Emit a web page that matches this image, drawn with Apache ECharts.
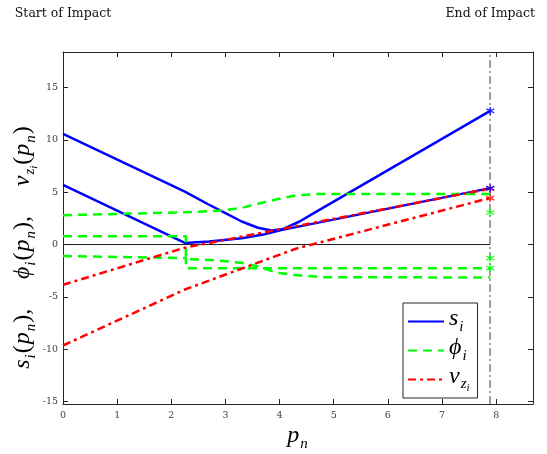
<!DOCTYPE html>
<html>
<head>
<meta charset="utf-8">
<script src="https://cdn.jsdelivr.net/npm/echarts@6/dist/echarts.min.js"></script>
<style>
html, body { margin: 0; padding: 0; background: #fff; }
#chart { width: 547px; height: 454px; }
</style>
</head>
<body>
<div id="chart"></div>
<script>
// Impact parameter at the end of the impact
const pEnd = 7.89;
const xRange = [0, 8.68];
const yRange = [-15.24, 18.4];
const xTicks = [0, 1, 2, 3, 4, 5, 6, 7, 8];
const yTicks = [-15, -10, -5, 0, 5, 10, 15];

// Slip speeds s_i(p_n)
const s1P = [0, 2.25, 2.68, 3.0, 3.3, 3.6, 3.85, 4.05, 4.37, 4.6, 7.89];
const s1V = [10.57, 5.06, 3.85, 3.0, 2.2, 1.6, 1.35, 1.45, 2.2, 2.9, 12.77];
const s2P = [0, 2.25, 2.7, 3.3, 3.7, 4.05, 7.89];
const s2V = [5.7, 0.15, 0.28, 0.6, 0.95, 1.4, 5.39];

// Slip directions phi_i(p_n)
const phi1P = [0, 2.25, 2.95, 3.3, 3.6, 3.97, 4.3, 4.7, 7.89];
const phi1V = [2.8, 3.08, 3.25, 3.5, 3.9, 4.35, 4.7, 4.82, 4.82];
const phi2P = [0, 2.27, 2.27, 2.5, 2.9, 3.3, 3.6, 3.95, 4.37, 4.8, 7.89];
const phi2V = [0.8, 0.8, -1.4, -1.42, -1.55, -1.75, -2.1, -2.7, -2.95, -3.12, -3.15];
const phi3P = [0, 2.27, 2.27, 7.89];
const phi3V = [-1.1, -1.3, -2.26, -2.26];

// Normal contact velocities v_zi(p_n)
const v1P = [0, 2.25, 7.89];
const v1V = [-3.85, -0.3, 5.35];
const v2P = [0, 2.25, 4.3, 7.89];
const v2V = [-9.65, -4.3, -0.4, 4.45];

// Values reached at the end of the impact
const sEnd = [12.77, 5.39];
const phiEnd = [3.06, -1.3, -2.25];
const vEnd = [5.35, 4.43];

const BLUE = '#0000ff', GREEN = '#00ff00', RED = '#ff0000';
const AXIS = '#262626';
const MATH = 'Liberation Serif';
const TEXT = 'DejaVu Serif';

const zip = (xs, ys) => xs.map((x, i) => [x, ys[i]]);

const asterisk = 'path://M5,0L5,10M0.67,2.5L9.33,7.5M0.67,7.5L9.33,2.5';

function curve(name, xs, ys, color, type, width) {
  return {
    name: name, type: 'line', data: zip(xs, ys),
    symbol: 'none', showSymbol: false, smooth: false, animation: false,
    lineStyle: { color: color, width: width, type: type },
    itemStyle: { color: color },
    emphasis: { disabled: true }
  };
}

function endMarks(name, vals, color) {
  return {
    name: name, type: 'scatter', animation: false,
    data: vals.map(v => [pEnd, v]),
    symbol: asterisk, symbolSize: 8,
    itemStyle: { color: 'rgba(0,0,0,0)', borderColor: color, borderWidth: 1.3 },
    emphasis: { disabled: true }, z: 5
  };
}

// Rich-text styles for math labels (italic letters with subscripts)
function mathRich(size) {
  return {
    m: { fontFamily: MATH, fontStyle: 'italic', fontSize: size, color: '#000', verticalAlign: 'bottom', padding: [0, 1, Math.round(size * 0.22), 0] },
    r: { fontFamily: MATH, fontSize: size, color: '#000', verticalAlign: 'bottom', padding: [0, 1, Math.round(size * 0.22), 0] },
    a: { fontFamily: MATH, fontStyle: 'italic', fontSize: Math.round(size * 0.62), color: '#000', verticalAlign: 'bottom', padding: [0, 1, Math.round(size * 0.05), 0] },
    b: { fontFamily: MATH, fontStyle: 'italic', fontSize: Math.round(size * 0.62), color: '#000', verticalAlign: 'bottom', padding: [0, 0, Math.round(size * 0.1), 0] },
    c: { fontFamily: MATH, fontStyle: 'italic', fontSize: Math.round(size * 0.45), color: '#000', verticalAlign: 'bottom', padding: [0, 1, 0, 0] }
  };
}

const legendText = {
  s: '{m|s}{a|i}',
  phi: '{m|\u03D5}{a|i}',
  v: '{m|v}{b|z}{c|i}'
};

const tickStyle = { show: true, inside: true, length: 5, lineStyle: { color: AXIS, width: 1 } };
const lineStyleAxis = { show: true, onZero: false, lineStyle: { color: AXIS, width: 1 } };
const labelStyle = { fontFamily: TEXT, fontSize: 9.5, color: '#404040' };

const chart = echarts.init(document.getElementById('chart'), null, { renderer: 'canvas' });

chart.setOption({
  animation: false,
  backgroundColor: '#fff',
  grid: { left: 63, right: 14, top: 52, bottom: 50, containLabel: false, outerBoundsMode: 'none' },
  xAxis: [
    {
      type: 'value', min: xRange[0], max: xRange[1], position: 'bottom',
      axisLine: lineStyleAxis,
      axisTick: Object.assign({ customValues: xTicks }, tickStyle),
      axisLabel: Object.assign({ customValues: xTicks, margin: 7 }, labelStyle),
      splitLine: { show: false },
      name: '{m|p}{a|n}', nameLocation: 'middle', nameGap: 20, nameMoveOverlap: false,
      nameTextStyle: { rich: mathRich(24) }
    },
    {
      type: 'value', min: xRange[0], max: xRange[1], position: 'top',
      axisLine: lineStyleAxis,
      axisTick: Object.assign({ customValues: xTicks }, tickStyle),
      axisLabel: { show: false },
      splitLine: { show: false }
    }
  ],
  yAxis: [
    {
      type: 'value', min: yRange[0], max: yRange[1], position: 'left',
      axisLine: lineStyleAxis,
      axisTick: Object.assign({ customValues: yTicks }, tickStyle),
      axisLabel: Object.assign({ customValues: yTicks, margin: 5 }, labelStyle),
      splitLine: { show: false },
      name: '{m|s}{a|i}{r|(}{m|p}{a|n}{r|),\u2003\u2009}{m|\u03D5}{a|i}{r|(}{m|p}{a|n}{r|),\u2003\u2009}{m|v}{b|z}{c|i}{r|(}{m|p}{a|n}{r|)}',
      nameLocation: 'middle', nameRotate: 90, nameGap: 23, nameMoveOverlap: false,
      nameTextStyle: { rich: mathRich(24), padding: [0, 38, 0, 0] }
    },
    {
      type: 'value', min: yRange[0], max: yRange[1], position: 'right',
      axisLine: lineStyleAxis,
      axisTick: Object.assign({ customValues: yTicks }, tickStyle),
      axisLabel: { show: false },
      splitLine: { show: false }
    }
  ],
  legend: {
    data: ['s', 'phi', 'v'],
    orient: 'vertical', left: 403, top: 303,
    padding: [4, 8, 4, 4],
    itemWidth: 36, itemHeight: 14, itemGap: 1,
    backgroundColor: '#fff', borderColor: AXIS, borderWidth: 1, borderRadius: 0,
    selectedMode: false,
    itemStyle: { opacity: 0, borderWidth: 0 },
    formatter: name => legendText[name],
    textStyle: { rich: mathRich(24) }
  },
  series: [
    // zero reference line and end-of-impact marker line
    {
      name: 'zero', type: 'line', data: [[0, 0], [pEnd, 0]], symbol: 'none', animation: false,
      lineStyle: { color: '#1a1a1a', width: 1 }, emphasis: { disabled: true }, silent: true, z: 1,
      markLine: {
        silent: true, symbol: 'none', animation: false,
        label: { show: false },
        lineStyle: { color: '#808080', width: 1.5, type: [8, 3, 2, 3] },
        data: [{ xAxis: pEnd }]
      }
    },
    curve('s', s1P, s1V, BLUE, 'solid', 2.5),
    curve('s', s2P, s2V, BLUE, 'solid', 2.5),
    curve('phi', phi1P, phi1V, GREEN, [9, 6], 2.5),
    curve('phi', phi2P, phi2V, GREEN, [9, 6], 2.5),
    curve('phi', phi3P, phi3V, GREEN, [9, 6], 2.5),
    curve('v', v1P, v1V, RED, [8, 4, 3, 4], 2.5),
    curve('v', v2P, v2V, RED, [8, 4, 3, 4], 2.5),
    endMarks('phiEnd', phiEnd, GREEN),
    endMarks('vEnd', vEnd, RED),
    endMarks('sEnd', sEnd, BLUE)
  ]
});

// Annotations above the plot at the start and end of the impact
const xStart = chart.convertToPixel({ xAxisIndex: 0 }, 0);
const xStop = chart.convertToPixel({ xAxisIndex: 0 }, pEnd);
chart.setOption({
  graphic: [
    { type: 'text', x: xStart, y: 14, style: { text: 'Start of Impact', font: '12.5px "DejaVu Serif"', fill: '#111', textAlign: 'center', textVerticalAlign: 'middle' } },
    { type: 'text', x: xStop, y: 14, style: { text: 'End of Impact', font: '12.5px "DejaVu Serif"', fill: '#111', textAlign: 'center', textVerticalAlign: 'middle' } }
  ]
});
</script>
</body>
</html>
